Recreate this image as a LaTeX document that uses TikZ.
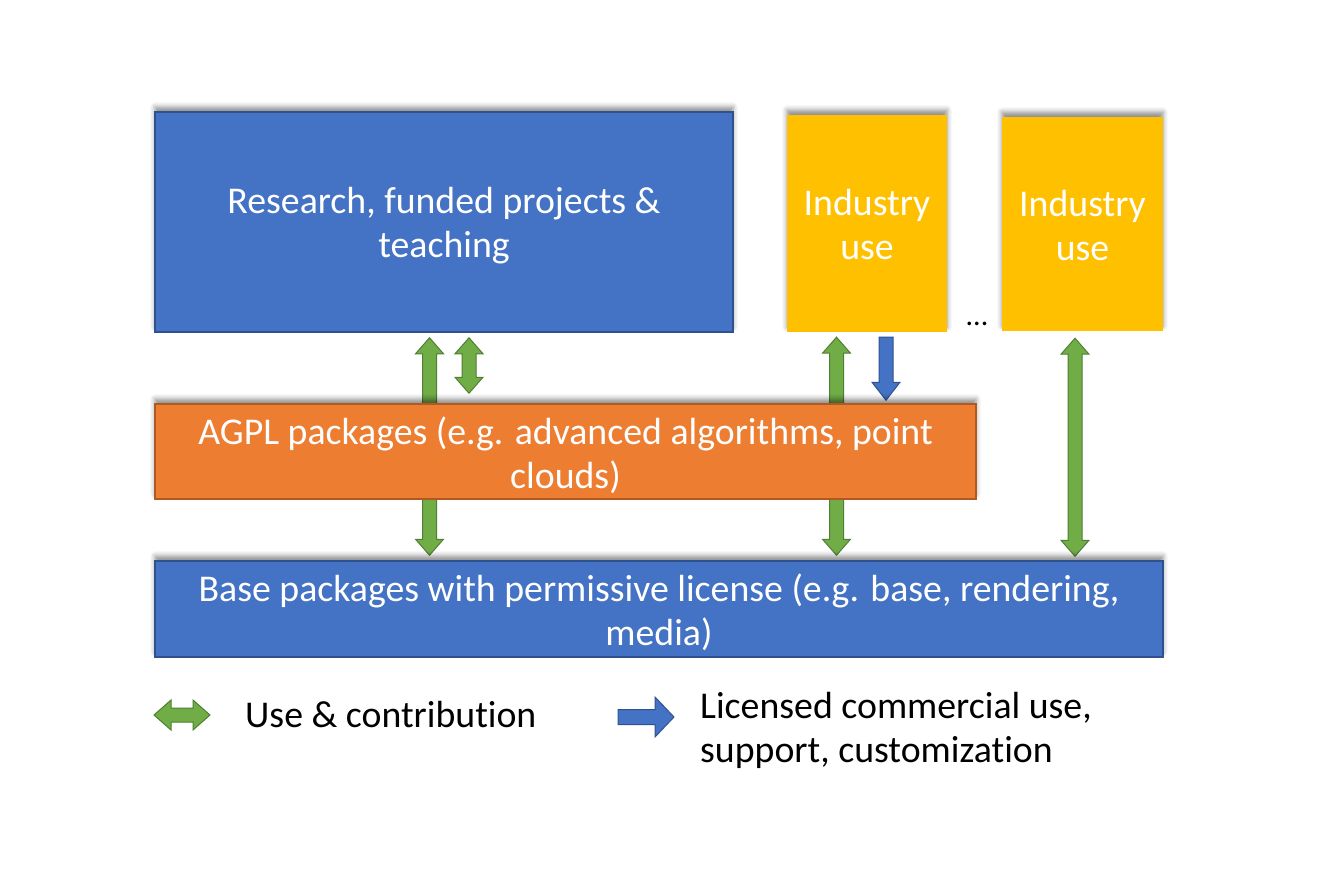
\documentclass[tikz,border=0pt]{standalone}
\usepackage{fontspec}
\setmainfont{Carlito}[Ligatures=NoCommon]
\usetikzlibrary{calc,shadows.blur}
\pgfdeclarelayer{bg}
\pgfsetlayers{bg,main}
\definecolor{boxblue}{HTML}{4472C4}
\definecolor{blueline}{HTML}{2F528F}
\definecolor{boxorange}{HTML}{ED7D31}
\definecolor{orangeline}{HTML}{AE5A21}
\definecolor{boxyellow}{HTML}{FFC000}
\definecolor{arrgreen}{HTML}{70AD47}
\definecolor{greenline}{HTML}{507E32}
\tikzset{
  shad/.style={blur shadow={shadow xshift=0pt, shadow yshift=5pt, shadow blur radius=5pt, shadow opacity=45}},
  boxbase/.style={rectangle, inner sep=0pt, shad},
  boxtext/.style={inner sep=0pt, align=center, text=white, font=\fontsize{37.8}{44}\selectfont},
  bluebox/.style={boxbase, fill=boxblue, draw=blueline, line width=1.5pt},
  orangebox/.style={boxbase, fill=boxorange, draw=orangeline, line width=1.5pt},
  yellowbox/.style={boxbase, fill=boxyellow},
  garrow/.style={fill=arrgreen, draw=greenline, line width=1pt, line join=miter},
  barrow/.style={fill=boxblue, draw=blueline, line width=1pt, line join=miter},
  legtext/.style={font=\fontsize{37.8}{44}\selectfont, text=black, align=left, inner sep=0pt}
}
% vertical double block arrow: style, top point, bottom point
\newcommand\vdblarrow[3]{%
  \path[#1] let \p1=(#2), \p2=(#3) in
   (\x1,\y1) -- (\x1+14pt,\y1-16pt) -- (\x1+7pt,\y1-16pt) -- (\x1+7pt,\y2+16pt)
   -- (\x1+14pt,\y2+16pt) -- (\x1,\y2) -- (\x1-14pt,\y2+16pt) -- (\x1-7pt,\y2+16pt)
   -- (\x1-7pt,\y1-16pt) -- (\x1-14pt,\y1-16pt) -- cycle;}
% vertical single block arrow pointing down
\newcommand\vdownarrow[3]{%
  \path[#1] let \p1=(#2), \p2=(#3) in
   (\x1-7pt,\y1) -- (\x1+7pt,\y1) -- (\x1+7pt,\y2+18pt) -- (\x1+14pt,\y2+18pt)
   -- (\x1,\y2) -- (\x1-14pt,\y2+18pt) -- (\x1-7pt,\y2+18pt) -- cycle;}
\begin{document}
\begin{tikzpicture}[x=1pt,y=-1pt]
\useasboundingbox (0,0) rectangle (1330,892);
% boxes
\node[bluebox, minimum width=578pt, minimum height=220pt] (research) at (444,222) {};
\node[boxtext] (researcht) at ($(research.center)+(0,3.5)$) {Research, funded projects \&\\teaching};
\node[yellowbox, minimum width=160pt, minimum height=217pt] (ind1) at (867,223.5) {};
\node[boxtext] (ind1t) at ($(ind1.center)+(0,1.5)$) {Industry\\use};
\node[yellowbox, minimum width=161pt, minimum height=214pt] (ind2) at (1082.5,224) {};
\node[boxtext] (ind2t) at ($(ind2.center)+(0,1.5)$) {Industry\\use};
\node[font=\fontsize{30}{36}\selectfont, inner sep=0pt] (dots) at (977,324) {...};
\node[orangebox, minimum width=821pt, minimum height=95pt] (agpl) at (565.5,451.5) {};
\node[boxtext] (agplt) at ($(agpl.center)+(0,3.5)$) {AGPL packages (e.g. advanced algorithms, point\\clouds)};
\node[bluebox, minimum width=1008pt, minimum height=96pt] (base) at (659,609) {};
\node[boxtext] (baset) at ($(base.center)+(0,3)$) {Base packages with permissive license (e.g. base, rendering,\\media)};
% arrow columns
\coordinate (c1) at (429.5,0);
\coordinate (c2) at (469,0);
\coordinate (c3) at (836.5,0);
\coordinate (c4) at (886,0);
\coordinate (c5) at (1075,0);
\coordinate (a1t) at ($(research.south -| c1)+(0,5)$);
\coordinate (a1b) at ($(base.north -| c1)+(0,-5)$);
\coordinate (a2t) at ($(research.south -| c2)+(0,5)$);
\coordinate (a2b) at ($(agpl.north -| c2)+(0,-10)$);
\coordinate (a3t) at ($(ind1.south -| c3)+(0,5)$);
\coordinate (a3b) at ($(base.north -| c3)+(0,-5)$);
\coordinate (a4t) at ($(ind1.south -| c4)+(0,5)$);
\coordinate (a4b) at ($(agpl.north -| c4)+(0,-3)$);
\coordinate (a5t) at ($(ind2.south -| c5)+(0,7)$);
\coordinate (a5b) at ($(base.north -| c5)+(0,-4)$);
\begin{pgfonlayer}{bg}
\vdblarrow{garrow}{a1t}{a1b}
\vdblarrow{garrow}{a2t}{a2b}
\vdblarrow{garrow}{a3t}{a3b}
\vdownarrow{barrow}{a4t}{a4b}
\vdblarrow{garrow}{a5t}{a5b}
\end{pgfonlayer}
% legend
\coordinate (lg1) at (154,715);
\coordinate (lg2) at (210,715);
\path[garrow] let \p1=(lg1), \p2=(lg2) in
  (\x1,\y1) -- (\x1+17pt,\y1+15pt) -- (\x1+17pt,\y1+7pt) -- (\x2-17pt,\y1+7pt)
  -- (\x2-17pt,\y1+15pt) -- (\x2,\y1) -- (\x2-17pt,\y1-15pt) -- (\x2-17pt,\y1-7pt)
  -- (\x1+17pt,\y1-7pt) -- (\x1+17pt,\y1-15pt) -- cycle;
\node[legtext, anchor=west] (leg1) at (245,715) {Use \& contribution};
\coordinate (lb1) at (618,717);
\coordinate (lb2) at (674,717);
\path[barrow] let \p1=(lb1), \p2=(lb2) in
  (\x1,\y1+7.5pt) -- (\x2-19pt,\y1+7.5pt) -- (\x2-19pt,\y1+20pt) -- (\x2,\y1)
  -- (\x2-19pt,\y1-20pt) -- (\x2-19pt,\y1-7.5pt) -- (\x1,\y1-7.5pt) -- cycle;
\node[legtext, anchor=west] (leg2) at (700,730) {Licensed commercial use,\\support, customization};
\end{tikzpicture}
\end{document}
